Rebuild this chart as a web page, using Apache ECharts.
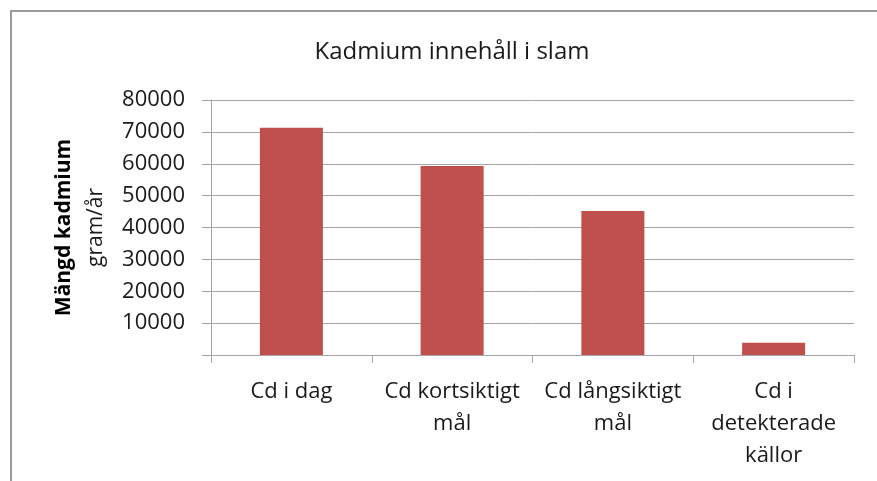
<!DOCTYPE html>
<html>
<head>
<meta charset="utf-8">
<script src="https://cdn.jsdelivr.net/npm/echarts@6/dist/echarts.min.js"></script>
<style>
  html, body { margin: 0; padding: 0; background: #fff; }
  #chart { width: 877px; height: 481px; }
</style>
</head>
<body>
<div id="chart"></div>
<script>
const categories = ["Cd i dag", "Cd kortsiktigt\nmål", "Cd långsiktigt\nmål", "Cd i\ndetekterade\nkällor"];
const values = [71300, 59300, 45200, 3850];
const yTicks = [0, 10000, 20000, 30000, 40000, 50000, 60000, 70000, 80000];

const font = "'Open Sans', 'Noto Sans', sans-serif";
const chart = echarts.init(document.getElementById("chart"));

chart.setOption({
  backgroundColor: "#ffffff",
  animation: false,
  title: {
    text: "Kadmium innehåll i slam",
    left: 447,
    top: 35,
    textAlign: "center",
    textStyle: { fontFamily: font, fontSize: 24, fontWeight: "normal", color: "#1a1a1a" },
  },
  graphic: [
    {
      type: "rect",
      shape: { x: 11, y: 11, width: 900, height: 500 },
      style: { fill: "none", stroke: "#9a9a9a", lineWidth: 2 },
    },
  ],
  grid: { left: 211, right: 23, top: 100, bottom: 126 },
  xAxis: {
    type: "category",
    data: categories,
    axisLine: { lineStyle: { color: "#a6a6a6", width: 1 } },
    axisTick: { show: true, length: 8, lineStyle: { color: "#a6a6a6" } },
    axisLabel: {
      fontFamily: font,
      fontSize: 22,
      color: "#1a1a1a",
      lineHeight: 32,
      margin: 21,
      interval: 0,
    },
  },
  yAxis: {
    type: "value",
    min: yTicks[0],
    max: yTicks[yTicks.length - 1],
    interval: 10000,
    name: "{b|Mängd kadmium}\n{n|gram/år}",
    nameLocation: "middle",
    nameRotate: 90,
    nameGap: 99,
    nameTextStyle: {
      rich: {
        b: { fontFamily: font, fontSize: 21, fontWeight: "bold", color: "#000", lineHeight: 32 },
        n: { fontFamily: font, fontSize: 21, color: "#1a1a1a", lineHeight: 32 },
      },
    },
    axisLine: { show: true, lineStyle: { color: "#a6a6a6" } },
    axisTick: { show: true, inside: false, length: 9, lineStyle: { color: "#a6a6a6" } },
    axisLabel: {
      fontFamily: font,
      fontSize: 22,
      color: "#1a1a1a",
      margin: 26,
      formatter: (v) => (v === 0 ? "" : String(v)),
    },
    splitLine: { lineStyle: { color: "#a6a6a6", width: 1 } },
  },
  series: [
    {
      type: "bar",
      data: values,
      barWidth: 63,
      itemStyle: { color: "#c0504d" },
    },
  ],
});
</script>
</body>
</html>
